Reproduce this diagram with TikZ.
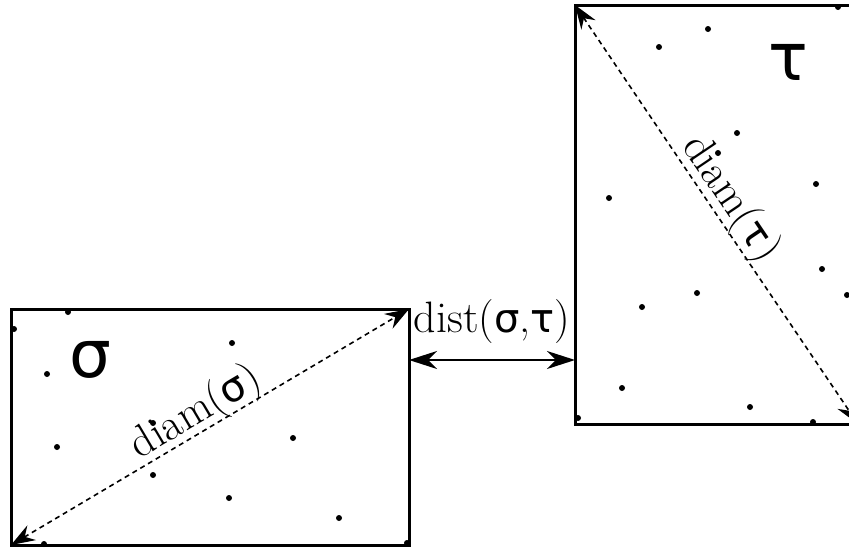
\documentclass[tikz,border=0pt]{standalone}
\usepackage{fontspec}
\newfontfamily\grk{DejaVu Sans}
\usetikzlibrary{arrows.meta}
\tikzset{
  boxline/.style={line width=3pt, line join=miter},
  diamline/.style={line width=1.6pt, dash pattern=on 5pt off 4pt, {Stealth[length=24pt,width=17pt,inset=8pt]}-{Stealth[length=24pt,width=17pt,inset=8pt]}},
  distline/.style={line width=2pt, {Stealth[length=28pt,width=18pt,inset=9pt]}-{Stealth[length=28pt,width=18pt,inset=9pt]}},
  pt/.style={circle, fill=black, inner sep=0pt, minimum size=6pt},
  lbl/.style={font=\fontsize{44}{48}\selectfont, inner sep=0pt},
  gsym/.style={font=\fontsize{66}{70}\selectfont\grk, inner sep=0pt}
}
\newcommand{\gs}{{\grk\fontsize{40}{44}\selectfont σ}}
\newcommand{\gt}{{\grk\fontsize{40}{44}\selectfont τ}}
\begin{document}
\begin{tikzpicture}[x=1pt,y=-1pt]
\useasboundingbox (0,0) rectangle (849,549);
\begin{scope}
\clip (0,0) rectangle (849,549);
% corners
\coordinate (sTL) at (11,309);
\coordinate (sBR) at (409,545);
\coordinate (sBL) at (11,545);
\coordinate (sTR) at (409,309);
\coordinate (tTL) at (575,5);
\coordinate (tBR) at (858,424);
\coordinate (dL) at (409,360);
\coordinate (dR) at (575,360);
% boxes
\draw[boxline] (sTL) rectangle (sBR);
\draw[boxline] (tTL) rectangle (tBR);
% dots sigma
\foreach \p [count=\i] in {(68,312),(14,329),(232,343),(47,374),(57,447),(153,423),(293,438),(153,475),(229,498),(339,518),(44,544),(407,543)}
  \node[pt] (s\i) at \p {};
% dots tau
\foreach \p [count=\i] in {(838,7),(708,29),(659,47),(737,133),(718,153),(816,184),(609,198),(822,269),(847,295),(697,293),(642,307),(622,388),(750,407),(813,422),(578,418)}
  \node[pt] (t\i) at \p {};
% labels
\node[gsym] (sig) at (90,360) {σ};
\node[gsym] (tau) at (788,62) {τ};
% diameters
\draw[diamline] (sBL) -- node[lbl, pos=0.49, sloped, anchor=base, yshift=8pt] (dsig) {diam(\gs)} (sTR);
\draw[diamline] (tTL) -- node[lbl, pos=0.49, sloped, anchor=base, yshift=9pt] (dtau) {diam(\gt)} (tBR);
% distance
\draw[distline] (dL) -- node[lbl, midway, anchor=base, yshift=28pt] (dist) {dist(\gs,\gt)} (dR);
\end{scope}
\end{tikzpicture}
\end{document}
